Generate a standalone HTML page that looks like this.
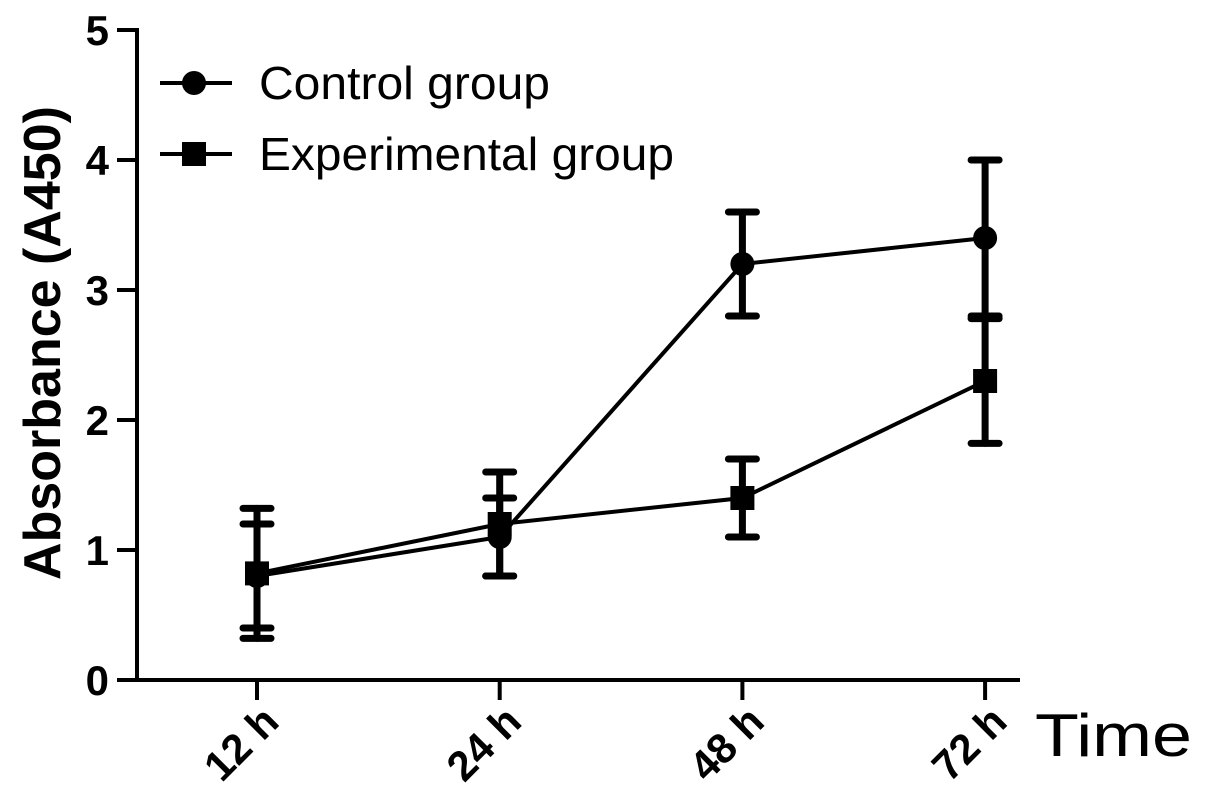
<!DOCTYPE html>
<html><head><meta charset="utf-8"><style>
html,body{margin:0;padding:0;background:#fff;}
svg{display:block;font-family:"Liberation Sans",Arial,sans-serif;}
</style></head><body>
<svg id="chart" width="1205" height="807" viewBox="0 0 1205 807" xmlns="http://www.w3.org/2000/svg">
<g id="axes"></g>
<g id="series"></g>
<g id="legend"></g>
</svg>
<script>
const categories = ["12 h","24 h","48 h","72 h"];
const controlMean = [0.8, 1.1, 3.2, 3.4];
const controlErr  = [0.4, 0.3, 0.4, 0.6];
const expMean     = [0.82, 1.2, 1.4, 2.3];
const expErr      = [0.5, 0.4, 0.3, 0.48];
const yTicks = [0,1,2,3,4,5];

const NS="http://www.w3.org/2000/svg";
function X(i){ return 257 + i*242.7; }
function Y(v){ return 680 - v*130; }
function mk(tag,attrs,parent){const e=document.createElementNS(NS,tag);for(const k in attrs)e.setAttribute(k,attrs[k]);parent.appendChild(e);return e;}

const axes=document.getElementById('axes');
const yAxis=mk('line',{x1:137,y1:28,x2:137,y2:681,stroke:'#000','stroke-width':4},axes);


const xAxis=mk('line',{x1:135,y1:680,x2:1020,y2:680,stroke:'#000','stroke-width':4},axes);


yTicks.forEach(t=>{
  const l=mk('line',{x1:117,y1:Y(t),x2:137,y2:Y(t),stroke:'#000','stroke-width':4},axes);
  
  
  const tx=mk('text',{x:109,y:Y(t)+15,'text-anchor':'end','font-size':42,'font-weight':'bold'},axes);
  tx.textContent=t;
  
  
});
categories.forEach((c,i)=>{
  const x=X(i);
  const l=mk('line',{x1:x,y1:680,x2:x,y2:700,stroke:'#000','stroke-width':4},axes);
  
  
  const tx=mk('text',{x:x+24,y:724,'text-anchor':'end','font-size':42,'font-weight':'bold',transform:`rotate(-45 ${x+24} 724)`},axes);
  tx.textContent=c;
  
  
});
const yt=mk('text',{x:0,y:0,'text-anchor':'middle','font-size':52,'font-weight':'bold',transform:'translate(60 343) rotate(-90)'},axes);
yt.textContent='Absorbance (A450)';


const xt=mk('text',{x:1035,y:756,'font-size':60,textLength:157,lengthAdjust:'spacingAndGlyphs'},axes);
xt.textContent='Time';



const ser=document.getElementById('series');
function drawSeries(name,mean,err,shape){
  const g=mk('g',{},ser);
  
  
  const pts=mean.map((v,i)=>X(i)+','+Y(v)).join(' ');
  const pl=mk('polyline',{points:pts,fill:'none',stroke:'#000','stroke-width':4},g);
  
  
  mean.forEach((v,i)=>{
    const x=X(i);
    const eb=mk('g',{stroke:'#000','stroke-width':7,'stroke-linecap':'round'},g);
    
    
    mk('line',{x1:x,y1:Y(v+err[i]),x2:x,y2:Y(v-err[i])},eb);
    mk('line',{x1:x-14,y1:Y(v+err[i]),x2:x+14,y2:Y(v+err[i])},eb);
    mk('line',{x1:x-14,y1:Y(v-err[i]),x2:x+14,y2:Y(v-err[i])},eb);
    let m;
    if(shape==='circle') m=mk('circle',{cx:x,cy:Y(v),r:12,fill:'#000'},g);
    else m=mk('rect',{x:x-12,y:Y(v)-12,width:24,height:24,fill:'#000'},g);
    
    
  });
}
drawSeries('control',controlMean,controlErr,'circle');
drawSeries('experimental',expMean,expErr,'square');

const lg=document.getElementById('legend');
function legendEntry(y,shape,label,w){
  const g=mk('g',{},lg);
  
  
  mk('line',{x1:160,y1:y,x2:232,y2:y,stroke:'#000','stroke-width':4},g);
  if(shape==='circle') mk('circle',{cx:194,cy:y,r:12,fill:'#000'},g);
  else mk('rect',{x:182,y:y-12,width:24,height:24,fill:'#000'},g);
  const t=mk('text',{x:259,y:y+16,'font-size':46,textLength:w,lengthAdjust:'spacingAndGlyphs'},g);
  t.textContent=label;
}
legendEntry(83,'circle','Control group',291);
legendEntry(154,'square','Experimental group',415);
</script>
</body></html>
